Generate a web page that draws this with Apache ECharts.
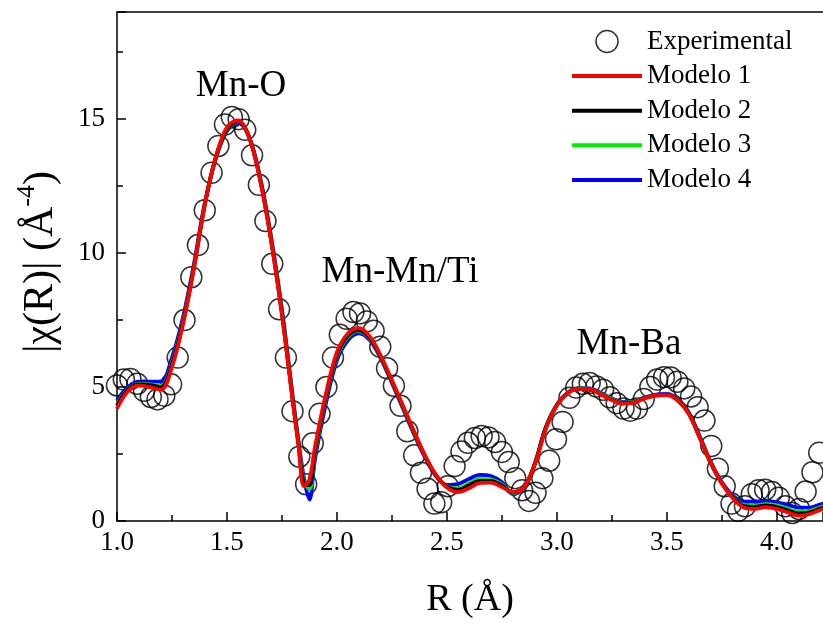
<!DOCTYPE html>
<html>
<head>
<meta charset="utf-8">
<script src="https://cdn.jsdelivr.net/npm/echarts@6/dist/echarts.min.js"></script>
<style>
html,body{margin:0;padding:0;background:#fff;}
#chart{width:823px;height:624px;}
</style>
</head>
<body>
<div id="chart"></div>
<script>
// Experimental |chi(R)| (open circles)
const expR = [1.000,1.031,1.061,1.092,1.123,1.154,1.184,1.215,1.246,1.276,1.307,1.338,1.368,1.399,1.430,1.461,1.491,1.522,1.553,1.583,1.614,1.645,1.675,1.706,1.737,1.768,1.798,1.829,1.860,1.890,1.921,1.952,1.982,2.013,2.044,2.075,2.105,2.136,2.167,2.197,2.228,2.259,2.289,2.320,2.351,2.382,2.412,2.443,2.474,2.504,2.535,2.566,2.596,2.627,2.658,2.689,2.719,2.750,2.781,2.811,2.842,2.873,2.903,2.934,2.965,2.996,3.026,3.057,3.088,3.118,3.149,3.180,3.210,3.241,3.272,3.303,3.333,3.364,3.395,3.425,3.456,3.487,3.517,3.548,3.579,3.610,3.640,3.671,3.702,3.732,3.763,3.794,3.824,3.855,3.886,3.917,3.947,3.978,4.009,4.039,4.070,4.101,4.131,4.162,4.193];
const expVal = [5.06,5.28,5.30,5.12,4.86,4.63,4.54,4.68,5.10,6.10,7.50,9.10,10.30,11.60,13.00,14.00,14.80,15.08,15.00,14.60,13.65,12.55,11.20,9.60,7.90,6.10,4.10,2.40,1.37,2.90,4.00,5.00,6.10,6.95,7.55,7.80,7.75,7.45,7.10,6.50,5.70,5.05,4.30,3.35,2.45,1.80,1.20,0.65,0.70,1.30,2.05,2.59,2.92,3.10,3.17,3.12,2.95,2.58,2.20,1.60,1.15,0.75,1.05,1.60,2.25,3.05,3.70,4.60,4.98,5.12,5.15,5.02,4.90,4.62,4.40,4.20,4.12,4.20,4.55,5.00,5.28,5.37,5.36,5.20,4.95,4.65,4.25,3.75,2.80,1.95,1.30,0.65,0.38,0.55,1.00,1.15,1.17,1.08,0.87,0.55,0.30,0.45,1.10,1.82,2.55];

// Model fits, common R grid
const modelR = [1.00,1.05,1.10,1.15,1.20,1.25,1.30,1.35,1.40,1.45,1.50,1.55,1.60,1.65,1.70,1.75,1.80,1.825,1.85,1.875,1.90,1.95,2.00,2.05,2.10,2.15,2.20,2.25,2.30,2.35,2.40,2.45,2.50,2.55,2.60,2.65,2.70,2.75,2.80,2.85,2.90,2.95,3.00,3.05,3.10,3.15,3.20,3.25,3.30,3.35,3.40,3.45,3.50,3.55,3.60,3.65,3.70,3.75,3.80,3.85,3.90,3.95,4.00,4.05,4.10,4.15,4.20,4.25];
const modelo1 = [4.20,4.85,5.05,5.00,4.90,5.75,7.35,9.45,11.85,13.60,14.70,14.95,14.35,12.75,10.50,7.70,4.40,2.85,1.30,1.55,2.75,4.75,6.30,7.00,7.20,6.88,6.15,5.25,4.30,3.35,2.45,1.72,1.25,1.08,1.22,1.42,1.43,1.27,1.08,1.25,2.12,3.45,4.32,4.78,4.94,4.92,4.72,4.52,4.38,4.42,4.58,4.68,4.70,4.50,4.00,3.10,2.15,1.40,0.85,0.50,0.45,0.52,0.45,0.32,0.20,0.26,0.42,0.55];
const modelo2 = [4.30,4.90,5.10,5.07,5.00,5.85,7.40,9.48,11.85,13.60,14.62,14.92,14.35,12.78,10.52,7.75,4.45,2.88,1.40,1.35,2.60,4.65,6.20,6.92,7.13,6.83,6.12,5.22,4.27,3.32,2.43,1.70,1.28,1.16,1.33,1.50,1.50,1.32,1.07,1.24,2.14,3.49,4.32,4.78,4.94,4.92,4.73,4.53,4.40,4.43,4.59,4.69,4.71,4.51,4.01,3.11,2.16,1.41,0.88,0.56,0.53,0.58,0.52,0.40,0.28,0.32,0.47,0.58];
const modelo3 = [4.35,4.92,5.12,5.10,5.05,5.90,7.45,9.50,11.85,13.58,14.60,14.90,14.35,12.80,10.55,7.80,4.50,2.90,1.45,1.20,2.50,4.60,6.15,6.88,7.10,6.80,6.10,5.20,4.25,3.30,2.42,1.70,1.30,1.22,1.40,1.57,1.55,1.36,1.05,1.23,2.13,3.48,4.33,4.79,4.95,4.93,4.75,4.55,4.42,4.45,4.60,4.70,4.72,4.52,4.02,3.12,2.17,1.42,0.90,0.60,0.58,0.63,0.58,0.46,0.35,0.38,0.52,0.62];
const modelo4 = [4.50,5.00,5.20,5.20,5.20,6.10,7.60,9.60,11.90,13.55,14.55,14.85,14.35,12.85,10.65,7.90,4.60,3.00,1.60,0.80,2.30,4.40,6.00,6.75,7.00,6.75,6.05,5.15,4.20,3.25,2.38,1.68,1.35,1.38,1.57,1.72,1.68,1.45,1.00,1.22,2.15,3.50,4.35,4.80,4.96,4.95,4.78,4.58,4.45,4.48,4.62,4.72,4.74,4.55,4.05,3.15,2.20,1.45,0.95,0.72,0.72,0.75,0.70,0.60,0.50,0.50,0.62,0.70];

const xTicks = [1.0,1.5,2.0,2.5,3.0,3.5,4.0];
const yTicks = [0,5,10,15];
const seriesNames = ['Experimental','Modelo 1','Modelo 2','Modelo 3','Modelo 4'];
const peakLabels = ['Mn-O','Mn-Mn/Ti','Mn-Ba'];

const FONT = '"Liberation Serif","Times New Roman",serif';
const LINE_ICON = 'path://M0,0L70,0L70,4L0,4Z';
const zip = (a,b) => a.map((v,i) => [v, b[i]]);

const chart = echarts.init(document.getElementById('chart'), null, {renderer:'canvas'});

function lineSeries(name, color, vals, z) {
  return {
    name: name, type: 'line', data: zip(modelR, vals),
    smooth: 0.35, symbol: 'none', showSymbol: false, z: z,
    clip: true,
    lineStyle: {color: color, width: 3.8},
    itemStyle: {color: color},
    emphasis: {disabled: true}
  };
}

chart.setOption({
  animation: false,
  backgroundColor: '#ffffff',
  grid: {left: 117, right: 0, top: 12, bottom: 97, containLabel: false},
  legend: {
    data: [
      {name: seriesNames[0], icon: 'circle', itemStyle: {color: 'rgba(0,0,0,0)', borderColor: '#000', borderWidth: 1.5}},
      {name: seriesNames[1], icon: LINE_ICON},
      {name: seriesNames[2], icon: LINE_ICON},
      {name: seriesNames[3], icon: LINE_ICON},
      {name: seriesNames[4], icon: LINE_ICON}
    ],
    orient: 'vertical', left: 567, top: 23, padding: 5,
    itemWidth: 70, itemHeight: 22, itemGap: 7.6,
    textStyle: {fontFamily: FONT, fontSize: 27, color: '#000'}
  },
  xAxis: [{
    type: 'value', min: 1.0, max: 4.21, interval: 0.5,
    name: 'R (Å)', nameLocation: 'middle', nameGap: 60,
    nameTextStyle: {fontFamily: FONT, fontSize: 38, color: '#000'},
    axisLine: {show: true, onZero: false, lineStyle: {color: '#000', width: 1.5}},
    axisTick: {show: true, inside: true, length: 9, lineStyle: {color: '#000', width: 1.5}},
    minorTick: {show: true, splitNumber: 2, length: 6, lineStyle: {color: '#000', width: 1.5}},
    axisLabel: {
      fontFamily: FONT, fontSize: 27, color: '#000', margin: 8,
      showMaxLabel: false,
      formatter: v => (xTicks.indexOf(Math.round(v*10)/10) >= 0 ? v.toFixed(1) : '')
    },
    splitLine: {show: false}
  }, {
    type: 'value', position: 'top', min: 1.0, max: 4.21,
    axisLine: {show: true, onZero: false, lineStyle: {color: '#000', width: 1.5}},
    axisTick: {show: false}, axisLabel: {show: false}, splitLine: {show: false}
  }],
  yAxis: [{
    type: 'value', min: 0, max: 19, interval: 5,
    axisLine: {show: true, onZero: false, lineStyle: {color: '#000', width: 1.5}},
    axisTick: {show: true, inside: true, length: 9, lineStyle: {color: '#000', width: 1.5}},
    minorTick: {show: true, splitNumber: 2, length: 6, lineStyle: {color: '#000', width: 1.5}},
    axisLabel: {
      fontFamily: FONT, fontSize: 27, color: '#000', margin: 12,
      showMaxLabel: false,
      formatter: v => (yTicks.indexOf(v) >= 0 ? String(v) : '')
    },
    splitLine: {show: false}
  }],
  graphic: [
    {type: 'text', x: 38, y: 262, rotation: Math.PI/2, z: 100,
     style: {
       text: '{a||χ(R)| (Å}{s|-4}{a|)}',
       align: 'center', verticalAlign: 'middle',
       rich: {
         a: {fontFamily: FONT, fontSize: 42, fill: '#000', lineHeight: 48, verticalAlign: 'bottom'},
         s: {fontFamily: FONT, fontSize: 26, fill: '#000', lineHeight: 48, verticalAlign: 'top', padding: [0,0,16,0]}
       }
     }},
    {type: 'text', x: 241, y: 86, z: 100,
     style: {text: peakLabels[0], font: '37px ' + FONT, fill: '#000', align: 'center', verticalAlign: 'middle'}},
    {type: 'text', x: 400, y: 272, z: 100,
     style: {text: peakLabels[1], font: '37px ' + FONT, fill: '#000', align: 'center', verticalAlign: 'middle'}},
    {type: 'text', x: 629, y: 344, z: 100,
     style: {text: peakLabels[2], font: '37px ' + FONT, fill: '#000', align: 'center', verticalAlign: 'middle'}}
  ],
  series: [
    {
      name: seriesNames[0], type: 'scatter', data: zip(expR, expVal),
      symbol: 'circle', symbolSize: 21, z: 1, clip: true,
      itemStyle: {color: 'rgba(0,0,0,0)', borderColor: '#000', borderWidth: 1.5},
      emphasis: {disabled: true}
    },
    lineSeries(seriesNames[4], '#0000ff', modelo4, 2),
    lineSeries(seriesNames[3], '#00ee00', modelo3, 3),
    lineSeries(seriesNames[2], '#000000', modelo2, 4),
    lineSeries(seriesNames[1], '#ff0000', modelo1, 5)
  ]
});
</script>
</body>
</html>
